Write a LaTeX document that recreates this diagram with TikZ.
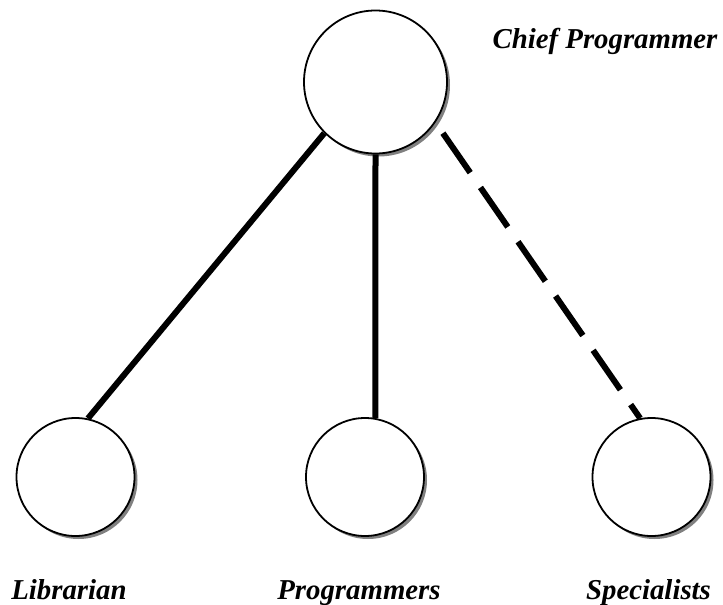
\documentclass[tikz,border=0pt]{standalone}
\usepackage{fontspec}
\setmainfont{Liberation Serif}
\usetikzlibrary{positioning,shadows}

\tikzset{
  member/.style={circle, draw, fill=white, inner sep=0pt, line width=1.8pt,
    drop shadow={shadow xshift=3pt, shadow yshift=-3pt, fill=black!50, opacity=1}},
  role/.style={anchor=base, font=\fontsize{28.8}{34}\selectfont\bfseries\itshape},
  link/.style={line width=6pt},
  optional/.style={link, dash pattern=on 48pt off 18pt}
}

\begin{document}
\begin{tikzpicture}[x=1pt, y=-1pt]
   \useasboundingbox (0,0) rectangle (723,605);
   \node[member, minimum size=143pt] (chief) at (375.5,82) {};
   \node[member, minimum size=118pt] (lib)  at (75.5,477) {};
   \node[member, minimum size=118pt] (prog) at (365,477) {};
   \node[member, minimum size=118pt] (spec) at (651.5,477) {};

   \node[role] (chiefname) at (605,48)  {Chief Programmer};
   \node[role] (libname)   at (69,599)  {Librarian};
   \node[role] (progname)  at (359,599) {Programmers};
   \node[role] (specname)  at (648.5,599) {Specialists};

    \path
    (chief.225)   edge [link] (lib.78)
    (chief.south) edge [link] (prog.80)
    (chief.-34)   edge [optional, shorten <=13pt] (spec.101);

\end{tikzpicture}
\end{document}
